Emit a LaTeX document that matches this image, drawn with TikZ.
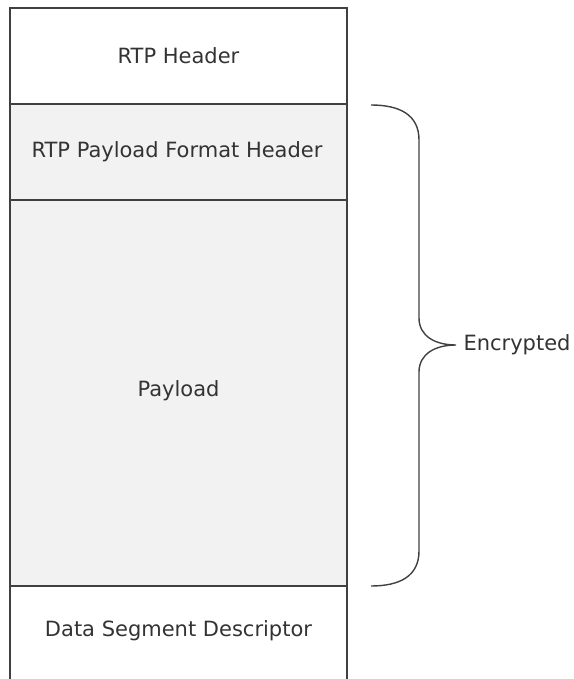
\documentclass[tikz,border=0pt]{standalone}
\usepackage{fontspec}
\setmainfont{DejaVu Sans}
\definecolor{edge}{HTML}{404040}
\definecolor{boxfill}{HTML}{F2F2F2}
\definecolor{ink}{HTML}{333333}
\begin{document}
\begin{tikzpicture}[x=1pt,y=-1pt,
  lbl/.style={font=\fontsize{21}{25}\selectfont, text=ink},
  part/.style={draw=edge, line width=1.6pt}]
\useasboundingbox (0,0) rectangle (573,679);
\fill[boxfill] (10,104) rectangle (347,586);
\draw[part] (10,686) -- (10,8) -- (347,8) -- (347,686);
\draw[part] (10,104) -- (347,104);
\draw[part] (10,200) -- (347,200);
\draw[part] (10,586) -- (347,586);
\node[lbl] (rtp) at (178.5,56) {RTP Header};
\node[lbl] (fmt) at (177,152) {RTP Payload Format Header};
\node[lbl] (pay) at (178.5,391) {Payload};
\node[lbl] (dsd) at (178.5,631) {Data Segment Descriptor};
\coordinate (btop) at (371,105);
\coordinate (bbot) at (371,586);
\coordinate (tip) at (456,345);
\draw[edge, line width=1.4pt]
  (btop) .. controls (400,105) and (419,115) .. (419,140)
  -- (419,318) .. controls (419,336) and (435,345) .. (tip)
  .. controls (435,345) and (419,354) .. (419,372)
  -- (419,551) .. controls (419,576) and (400,586) .. (bbot);
\node[lbl, anchor=west] (enc) at (460,345) {Encrypted};
\end{tikzpicture}
\end{document}
